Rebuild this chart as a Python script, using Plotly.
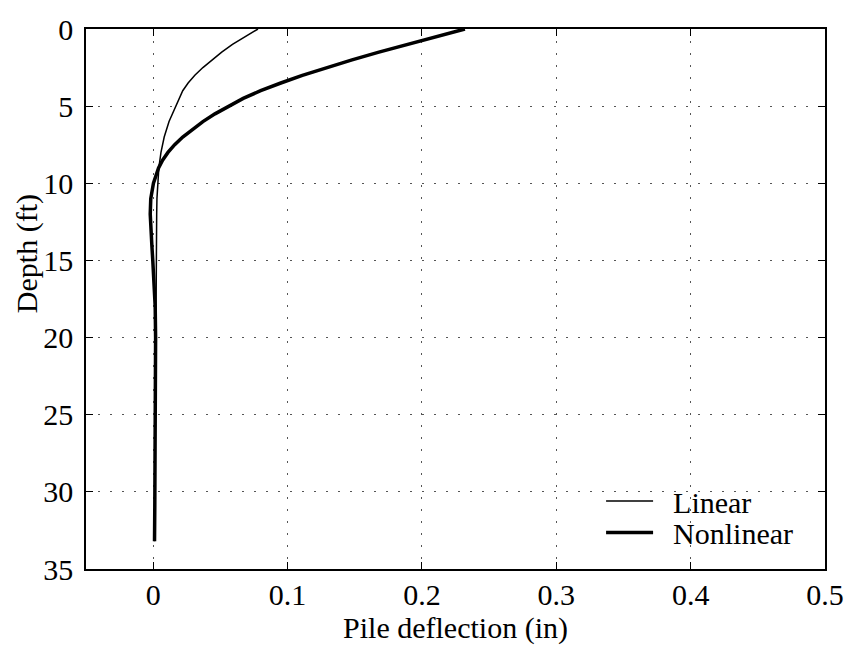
import plotly.graph_objects as go

# Pile deflection profiles versus depth
depth_linear = [0, 0.5, 1, 1.5, 2, 2.5, 3, 3.5, 4, 5, 6, 7, 8, 9, 10, 11, 12, 14, 16,
                18, 20, 22, 25, 28, 31, 33.2]
defl_linear = [0.078, 0.068, 0.059, 0.051, 0.044, 0.037, 0.031, 0.026, 0.022, 0.017,
               0.0118, 0.0082, 0.0058, 0.0042, 0.0033, 0.0028, 0.0026, 0.0024, 0.0022,
               0.002, 0.0018, 0.0017, 0.0016, 0.0014, 0.0012, 0.001]

depth_nonlinear = [0, 0.5, 1, 1.5, 2, 2.5, 3, 3.5, 4, 4.5, 5, 5.5, 6, 6.5, 7, 7.5, 8,
                   8.5, 9, 10, 11, 12, 13, 14, 15, 16, 17, 18, 20, 22, 25, 28, 31, 33.2]
defl_nonlinear = [0.232, 0.21, 0.189, 0.168, 0.148, 0.129, 0.111, 0.095, 0.080, 0.067,
                  0.056, 0.046, 0.037, 0.029, 0.022, 0.016, 0.011, 0.007, 0.004, 0.0002,
                  -0.0018, -0.0022, -0.0018, -0.001, -0.0003, 0.0005, 0.001, 0.0015,
                  0.0018, 0.0018, 0.0016, 0.0014, 0.0012, 0.001]

x_ticks = [0, 0.1, 0.2, 0.3, 0.4, 0.5]
x_tick_text = ["0", "0.1", "0.2", "0.3", "0.4", "0.5"]
y_ticks = [0, 5, 10, 15, 20, 25, 30, 35]

FONT = "Liberation Serif, Times New Roman, serif"
GAP = "\u00a0\u00a0"  # spacing between legend sample and its label

fig = go.Figure()
fig.add_trace(go.Scatter(x=defl_linear, y=depth_linear, mode="lines", name=GAP + "Linear",
                         line=dict(color="black", width=1.5), legend="legend"))
fig.add_trace(go.Scatter(x=defl_nonlinear, y=depth_nonlinear, mode="lines",
                         name=GAP + "Nonlinear",
                         line=dict(color="black", width=3.5), legend="legend2"))

axis_common = dict(
    showline=True, mirror="ticks", linecolor="black", linewidth=1.5,
    ticks="inside", ticklen=7, tickwidth=1, tickcolor="black",
    showgrid=True, gridcolor="#555555", gridwidth=1, griddash="2px,10px",
    zeroline=False, tickfont=dict(family=FONT, size=30, color="black"),
)

legend_common = dict(xanchor="left", yanchor="middle", bgcolor="rgba(0,0,0,0)",
                     borderwidth=0, font=dict(family=FONT, size=30, color="black"),
                     itemwidth=47)

fig.update_layout(
    width=856, height=646,
    margin=dict(l=86, r=25, t=21, b=77),
    paper_bgcolor="white", plot_bgcolor="white",
    font=dict(family=FONT, size=30, color="black"),
    xaxis=dict(range=[-0.05, 0.5], tickvals=x_ticks, ticktext=x_tick_text,
               ticklabelstandoff=-2,
               title=dict(text="Pile deflection (in)", standoff=0,
                          font=dict(family=FONT, size=30)),
               **axis_common),
    yaxis=dict(range=[35, 0], tickvals=y_ticks, ticklabelstandoff=5, **axis_common),
    legend=dict(x=0.697, y=0.126, **legend_common),
    legend2=dict(x=0.697, y=0.0675, **legend_common),
    showlegend=True,
    annotations=[dict(text="Depth (ft)", textangle=-90, xref="paper", yref="paper",
                      x=-0.0805, y=0.584, xanchor="center", yanchor="middle",
                      showarrow=False, font=dict(family=FONT, size=30, color="black"))],
)

fig.write_html("out.html")
